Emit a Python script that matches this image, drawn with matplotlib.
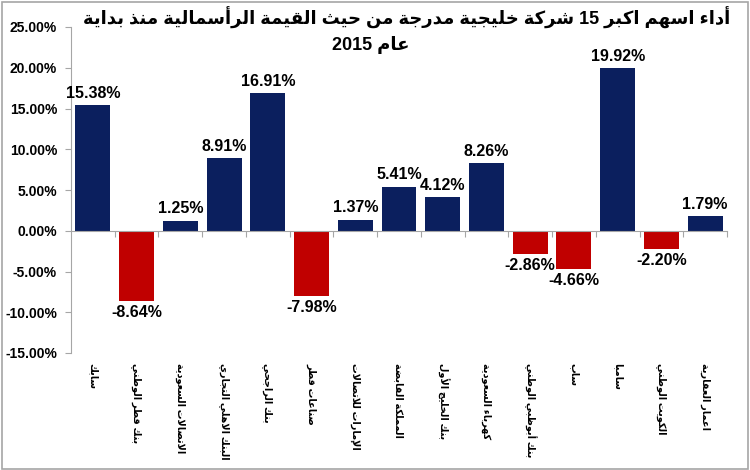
import matplotlib
matplotlib.use("Agg")
import matplotlib.pyplot as plt
import matplotlib.transforms as mtransforms
from matplotlib.patches import Rectangle

plt.rcParams['font.family'] = ['Liberation Sans', 'DejaVu Sans']

companies = ["سابك", "بنك قطر الوطني", "الاتصالات السعودية", "البنك الاهلي التجاري",
             "بنك الراجحي", "صناعات قطر", "الإمارات للاتصالات", "المملكة القابضة",
             "بنك الخليج الأول", "كهرباء السعودية", "بنك أبوظبي الوطني", "ساب",
             "سامبا", "الكويت الوطني", "اعمار العقارية"]
changes = [15.38, -8.64, 1.25, 8.91, 16.91, -7.98, 1.37, 5.41, 4.12, 8.26,
           -2.86, -4.66, 19.92, -2.20, 1.79]
title_lines = ["أداء اسهم اكبر 15 شركة خليجية مدرجة من حيث القيمة الرأسمالية منذ بداية",
               "عام 2015"]
yticks = [-15, -10, -5, 0, 5, 10, 15, 20, 25]

# --- minimal arabic shaping (presentation forms) + visual reordering ---
FORMS = {
    'ء': (0xFE80,), 'آ': (0xFE81, 0xFE82), 'أ': (0xFE83, 0xFE84), 'ؤ': (0xFE85, 0xFE86),
    'إ': (0xFE87, 0xFE88), 'ئ': (0xFE89, 0xFE8A, 0xFE8B, 0xFE8C), 'ا': (0xFE8D, 0xFE8E),
    'ب': (0xFE8F, 0xFE90, 0xFE91, 0xFE92), 'ة': (0xFE93, 0xFE94),
    'ت': (0xFE95, 0xFE96, 0xFE97, 0xFE98), 'ث': (0xFE99, 0xFE9A, 0xFE9B, 0xFE9C),
    'ج': (0xFE9D, 0xFE9E, 0xFE9F, 0xFEA0), 'ح': (0xFEA1, 0xFEA2, 0xFEA3, 0xFEA4),
    'خ': (0xFEA5, 0xFEA6, 0xFEA7, 0xFEA8), 'د': (0xFEA9, 0xFEAA), 'ذ': (0xFEAB, 0xFEAC),
    'ر': (0xFEAD, 0xFEAE), 'ز': (0xFEAF, 0xFEB0),
    'س': (0xFEB1, 0xFEB2, 0xFEB3, 0xFEB4), 'ش': (0xFEB5, 0xFEB6, 0xFEB7, 0xFEB8),
    'ص': (0xFEB9, 0xFEBA, 0xFEBB, 0xFEBC), 'ض': (0xFEBD, 0xFEBE, 0xFEBF, 0xFEC0),
    'ط': (0xFEC1, 0xFEC2, 0xFEC3, 0xFEC4), 'ظ': (0xFEC5, 0xFEC6, 0xFEC7, 0xFEC8),
    'ع': (0xFEC9, 0xFECA, 0xFECB, 0xFECC), 'غ': (0xFECD, 0xFECE, 0xFECF, 0xFED0),
    'ف': (0xFED1, 0xFED2, 0xFED3, 0xFED4), 'ق': (0xFED5, 0xFED6, 0xFED7, 0xFED8),
    'ك': (0xFED9, 0xFEDA, 0xFEDB, 0xFEDC), 'ل': (0xFEDD, 0xFEDE, 0xFEDF, 0xFEE0),
    'م': (0xFEE1, 0xFEE2, 0xFEE3, 0xFEE4), 'ن': (0xFEE5, 0xFEE6, 0xFEE7, 0xFEE8),
    'ه': (0xFEE9, 0xFEEA, 0xFEEB, 0xFEEC), 'و': (0xFEED, 0xFEEE), 'ى': (0xFEEF, 0xFEF0),
    'ي': (0xFEF1, 0xFEF2, 0xFEF3, 0xFEF4),
}
LAM_ALEF = {'ا': (0xFEFB, 0xFEFC), 'أ': (0xFEF7, 0xFEF8), 'إ': (0xFEF9, 0xFEFA), 'آ': (0xFEF5, 0xFEF6)}


def shape_word(w):
    out = []
    i = 0
    prev_joins = False
    while i < len(w):
        c = w[i]
        if c not in FORMS:
            out.append(c)
            prev_joins = False
            i += 1
            continue
        if c == 'ل' and i + 1 < len(w) and w[i + 1] in LAM_ALEF:
            out.append(chr(LAM_ALEF[w[i + 1]][1 if prev_joins else 0]))
            prev_joins = False
            i += 2
            continue
        f = FORMS[c]
        nxt = w[i + 1] if i + 1 < len(w) else None
        next_joins = len(f) == 4 and nxt in FORMS and nxt != 'ء'
        if prev_joins and next_joins:
            g = f[3]
        elif prev_joins and len(f) > 1:
            g = f[1]
        elif next_joins:
            g = f[2]
        else:
            g = f[0]
        out.append(chr(g))
        prev_joins = next_joins
        i += 1
    return ''.join(out)


def ar(text):
    words = text.split(' ')
    vis = []
    for w in reversed(words):
        if any(ch in FORMS for ch in w):
            vis.append(shape_word(w)[::-1])
        else:
            vis.append(w)
    return ' '.join(vis)


fig = plt.figure(figsize=(7.5, 4.7), dpi=100)
ax = fig.add_axes([71 / 750, 117 / 470, 656 / 750, 326 / 470])

x = list(range(len(changes)))
colors = ['#0B1F5E' if v >= 0 else '#C00000' for v in changes]
ax.bar(x, changes, width=0.8, color=colors, zorder=3)

ax.set_xlim(-0.5, len(changes) - 0.5)
ax.set_ylim(-15, 25)
ax.set_yticks(yticks)
ax.set_yticklabels([f"{t:.2f}%" for t in yticks], fontsize=10, fontweight='bold')

for s in ['top', 'right']:
    ax.spines[s].set_visible(False)
ax.spines['left'].set_color('#A6A6A6')
ax.spines['bottom'].set_position(('data', 0))
ax.spines['bottom'].set_color('#A6A6A6')
ax.spines['bottom'].set_zorder(4)
ax.set_xticks([i + 0.5 for i in range(len(changes))])
ax.set_xticklabels([])
ax.tick_params(axis='x', length=4, color='#A6A6A6', direction='out')
ax.tick_params(axis='y', length=4, color='#A6A6A6', direction='out', pad=6)

for xi, v in zip(x, changes):
    if v >= 0:
        ax.annotate(f"{v:.2f}%", (xi, v), xytext=(0, 3), textcoords='offset points',
                    ha='center', va='bottom', fontsize=11.5, fontweight='bold')
    else:
        ax.annotate(f"{v:.2f}%", (xi, v), xytext=(0, -3), textcoords='offset points',
                    ha='center', va='top', fontsize=11.5, fontweight='bold')

trans = mtransforms.blended_transform_factory(ax.transData, ax.transAxes)
for xi, name in zip(x, companies):
    ax.text(xi, -0.03, ar(name), transform=trans, rotation=270,
            ha='center', va='top', fontsize=7, fontweight='bold')

fig.text(730 / 750, 1 - 18 / 470, ar(title_lines[0]), ha='right', va='center',
         fontsize=13, fontweight='bold')
fig.text(410 / 750, 1 - 45 / 470, ar(title_lines[1]), ha='right', va='center',
         fontsize=13, fontweight='bold')

fig.patches.append(Rectangle((0.002, 0.003), 0.995, 0.993, transform=fig.transFigure,
                             fill=False, edgecolor='#A6A6A6', linewidth=1.2))

fig.savefig('out.png', dpi=100)
